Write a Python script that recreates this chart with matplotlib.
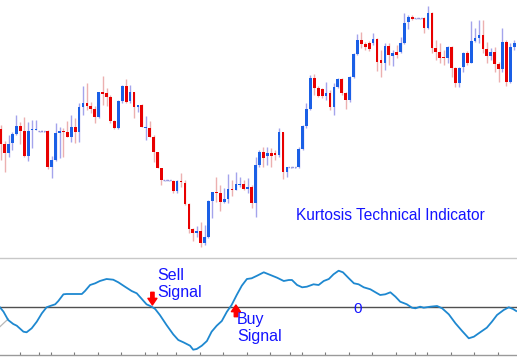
import matplotlib
matplotlib.use("Agg")
import matplotlib.pyplot as plt
from matplotlib.patches import Rectangle
import numpy as np

plt.rcParams['font.family'] = ['Liberation Sans', 'DejaVu Sans']

# ---- price data (arbitrary price units) ----
opens = [131,116,107,117,126,134,129,104,130,130,129,129,129,93,100,127,129,128,123,133,
         128,153,157,154,151,143,168,167,163,139,132,159,174,159,168,153,155,132,132,123,
         108,92,80,80,79,69,79,77,56,31,27,29,17,23,59,68,67,58,61,71,
         70,75,76,71,73,57,95,108,104,107,107,105,128,88,93,93,93,111,134,151,
         182,172,171,164,167,153,173,181,167,160,183,206,220,216,217,217,221,200,197,214,
         204,208,208,217,238,243,242,242,242,232,247,212,208,203,202,213,192,177,193,207,
         197,219,222,225,211,204,208,196,191,218,178,213]
closes = [116,107,116,126,134,129,104,129,131,131.5,129,129,93,100,127,129,128,123,133,128,
          153,157,154,151,143,168,166,163,139,132,159,174,158,168,153,155,133,133,123,108,
          92,80,80,80,69,79,78,56,31,27,29,17,23,59,68,67,58,61,71,70,
          76,76,71,73,57,95,108,102,107,104,105,128,88,93,93,93,111,134,151,182,
          172,164,164,167,153,173,181,167,160,183,206,220,216,213,211,221,198,197,214,205,
          207,205,217,237,243,241,242,242,232,247,212,208,202,202,213,192,177,192,207,197,
          219,222,225,211,204,208,196,191,218,178,213,217]
highs = [135,119,125,128,145,138,143,138,140,140,129.5,129.5,130,104,137,133,132,139,145,142,
         157,174,177,158,154,168,184,172,165,140,160,175,181,175,168,155,156,144,139,125,
         108,92,80.5,80.5,80,80,87,80,57,32,34,38,35,60,68,83,75,72,86,80,
         88,83,80,82,75,103,110,113,113,112,110,132,128,93,93.5,93.5,113,135,157,185,
         186,174,172,178,170,177,182,182,168,184,207,226,228,218,219,227,222,210,217,217,
         210,215,223,247,245,245,242.5,242.5,243,254,248,220,217,210,214,214,193,193,208,209,
         239,232,240,240,218,212,213,198,232,220,217,220]
lows = [100,88,103,110,125,116,103,99,112,130,128.5,128.5,91,82,99,102,103,123,118,117,
        118,145,150,147,137,142,155,154,137,131,131,157,157,157,142,148,133,120,123,98,
        92,75,79.5,79.5,67,67,73,55,27,19,23,13,15,22,42,58,49,57,57,64,
        70,73,70,67,52,43,93,93,95,93,100,103,81,83,92.5,92.5,92,110,132,150,
        165,163,162,160,150,145,172,165,151,158,182,205,212,210,209,215,189,183,190,195,
        194,202,207,216,231,240,241.5,241.5,227,231,207,200,197,195,197,183,173,173,188,195,
        197,218,217,207,197,200,188,178,188,174,177,210]

# ---- Kurtosis indicator (bar position, value) ----
ind_x = [-0.2,0.7,1.9,3.2,4.1,5.8,6.6,7.9,9.2,10.5,11.7,12.6,13.9,14.7,16.0,16.8,20.7,21.5,22.8,24.1,
         25.3,27.0,28.7,30.0,31.7,33.4,34.7,36.0,37.2,38.5,39.4,40.6,42.3,44.0,45.3,46.6,48.3,49.1,50.0,51.3,
         52.6,53.8,55.1,56.4,57.7,58.9,60.2,61.5,62.8,64.0,65.4,67.1,68.8,70.5,72.2,73.5,74.3,75.6,76.9,78.1,
         79.8,81.1,82.4,83.7,84.9,86.2,87.3,88.8,90.1,91.3,92.6,94.3,95.6,96.8,98.1,99.4,100.7,101.9,103.6,104.9,
         105.8,107.0,107.9,109.6,111.3,112.6,114.3,116.0,117.7,119.4,120.7,122.3,124.0,125.3,126.6,128.3,129.6,130.7,131.5]
ind_val = [0,-4.3,-12.7,-16.7,-18.4,-24.4,-25,-21,-14.4,-6,0,1.3,3,6.3,13,13.3,13.3,16.3,22.3,24,
           26.3,28.3,27.6,25,20.6,16.3,14,8.3,3,0.6,-1.7,-7.7,-17.7,-27,-32.7,-35,-38.4,-42.4,-41.7,-38.4,
           -33.7,-24.4,-18.4,-13.7,-4.4,2.3,12.3,21.6,28.3,29,31.6,35,32.3,29.6,26.3,27.3,27.3,22.3,20,20.6,
           23,22.3,26.3,28.3,33,36.6,35,29,24,23,20,18,15,12.3,13,15,10.6,5.6,3,-0.4,
           -1,0.6,-0.4,0.6,1.3,-1,-7,-16,-23.7,-31,-29.4,-25,-20.4,-14.4,-7.7,-2.7,0,-1.7,-3.7]
aux_x = [-0.2, 1.9]
aux_val = [-19.4, -11.7]

tick_pos = [4.8,9.8,12.8,18.8,24.8,30.8,36.8,39.8,44.8,50.8,56.8,62.8,68.8,73.8,76.8,82.8,
            88.8,94.8,100.8,105.8,108.8,114.8,120.8,126.8]

UP_BODY = '#1a5fe6'
DN_BODY = '#e80000'
UP_WICK = '#a4a4ec'
DN_WICK = '#ecb0b0'
TXT = '#1414ff'

W, H = 517, 358
fig = plt.figure(figsize=(W/100, H/100), dpi=100)
ax = fig.add_axes([0, (H-258)/H, 1, 258/H])
ax2 = fig.add_axes([0, (H-355)/H, 1, 97/H])

n = len(opens)
bw = 0.7
for i in range(n):
    o, c, h, l = opens[i], closes[i], highs[i], lows[i]
    up = c >= o
    ax.vlines(i, l, h, color=UP_WICK if up else DN_WICK, lw=1.0, zorder=1)
    if abs(c - o) < 0.6:
        ax.hlines(o, i - bw/2 - 0.25, i + bw/2 + 0.25, color='#8a8ad8', lw=1.0,
                  linestyles=(0, (1, 1)), zorder=2)
    else:
        ax.add_patch(Rectangle((i - bw/2, min(o, c)), bw, abs(c - o),
                               facecolor=UP_BODY if up else DN_BODY,
                               edgecolor='none', zorder=2))

xmin, xmax = -0.18, 131.7
ax.set_xlim(xmin, xmax)
ax.set_ylim(2, 260)
ax.axis('off')
fig.text(296/W, (H-220)/H, 'Kurtosis Technical Indicator', color=TXT,
         fontsize=11.2, ha='left', va='baseline')

# ---- indicator panel ----
ax2.set_xlim(xmin, xmax)
ax2.set_ylim(-47.7, 49.3)
for s in ['left', 'right']:
    ax2.spines[s].set_visible(False)
ax2.spines['top'].set_color('#c8c8c8')
ax2.spines['top'].set_linewidth(1.0)
ax2.spines['bottom'].set_color('#9a9a9a')
ax2.spines['bottom'].set_linewidth(1.0)
ax2.set_yticks([])
ax2.set_xticks(tick_pos)
ax2.set_xticklabels([])
ax2.tick_params(axis='x', direction='in', length=2.5, width=0.8, color='#7a7a7a')

ax2.axhline(0, color='#505050', lw=1.0, zorder=1)
ax2.plot(aux_x, aux_val, color='#b8b8b8', lw=0.9, zorder=1)
ax2.plot(ind_x, ind_val, color='#1e88d0', lw=1.3, zorder=3)

ax2.text(91.0, -1.4, '0', color=TXT, fontsize=11, ha='center', va='center', zorder=4)
ax2.text(39.9, 39.3, 'Sell\nSignal', color=TXT, fontsize=11.5, ha='left', va='top',
         linespacing=1.18, zorder=4)
ax2.text(60.3, -4.4, 'Buy\nSignal', color=TXT, fontsize=11.5, ha='left', va='top',
         linespacing=1.18, zorder=4)

arrow_kw = dict(width=2.4, headwidth=6.5, headlength=4.8, color='#ff0000', shrink=0.0)
ax2.annotate('', xy=(38.7, 2.3), xytext=(38.7, 15.0), arrowprops=arrow_kw, zorder=5)
ax2.annotate('', xy=(60.0, 2.3), xytext=(60.0, -9.4), arrowprops=arrow_kw, zorder=5)

fig.savefig('out.png', dpi=100)
